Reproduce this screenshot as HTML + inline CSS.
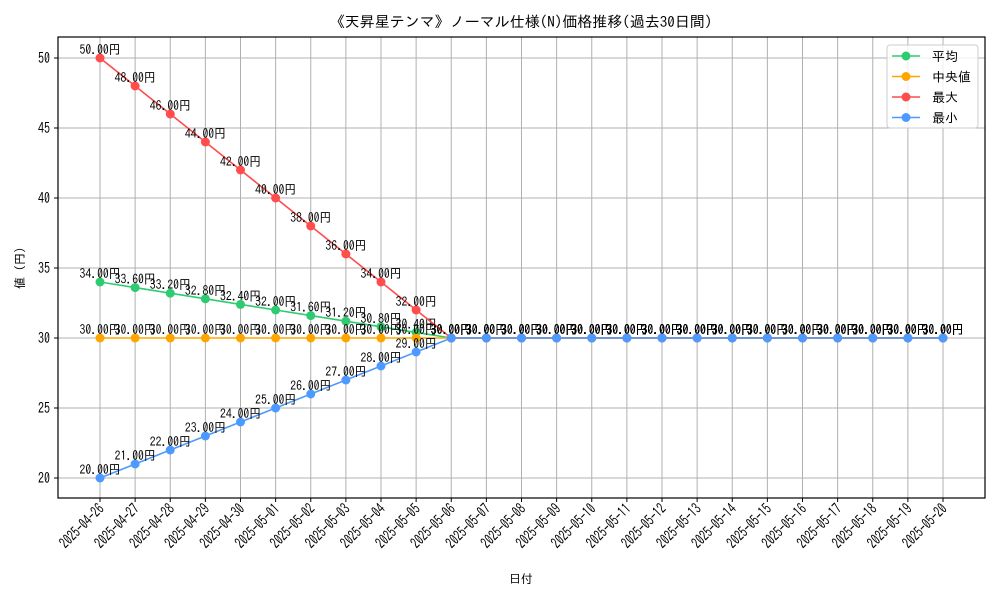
<!DOCTYPE html>
<html><head><meta charset="utf-8">
<style>
body{margin:0;background:#fff}
svg text{font-family:"IPAGothic","Noto Sans CJK JP",sans-serif;fill:#000}
</style></head>
<body>
<svg id="chart" width="1000" height="600" viewBox="0 0 1000 600" xmlns="http://www.w3.org/2000/svg">
<rect width="1000" height="600" fill="#fff"/>
<text x="521" y="27" font-size="15" text-anchor="middle">《天昇星テンマ》ノーマル仕様(N)価格推移(過去30日間)</text>
<g id="grid"></g>
<g id="axes"></g>
<g id="series"></g>
<text x="521" y="583" font-size="12" text-anchor="middle">日付</text>
<text x="0" y="0" font-size="12" text-anchor="middle" transform="translate(24,268) rotate(-90)">値 (円)</text>
<g>
<rect x="887" y="45" width="91" height="83" rx="3" fill="#fff" fill-opacity="0.8" stroke="#ccc"/>
<g id="legend-items"></g>
</g>
</svg>
<script>
const dates=["2025-04-26","2025-04-27","2025-04-28","2025-04-29","2025-04-30","2025-05-01","2025-05-02","2025-05-03","2025-05-04","2025-05-05","2025-05-06","2025-05-07","2025-05-08","2025-05-09","2025-05-10","2025-05-11","2025-05-12","2025-05-13","2025-05-14","2025-05-15","2025-05-16","2025-05-17","2025-05-18","2025-05-19","2025-05-20"];
const avgValues=[34,33.6,33.2,32.8,32.4,32,31.6,31.2,30.8,30.4,30,30,30,30,30,30,30,30,30,30,30,30,30,30,30];
const medianValues=[30,30,30,30,30,30,30,30,30,30,30,30,30,30,30,30,30,30,30,30,30,30,30,30,30];
const maxValues=[50,48,46,44,42,40,38,36,34,32,30,30,30,30,30,30,30,30,30,30,30,30,30,30,30];
const minValues=[20,21,22,23,24,25,26,27,28,29,30,30,30,30,30,30,30,30,30,30,30,30,30,30,30];
const yTicks=[20,25,30,35,40,45,50];
const seriesNames=["平均","中央値","最大","最小"];

const NS="http://www.w3.org/2000/svg";
const L=58,R=985,T=37,B=498;
const x=i=>100+i*(943-100)/(dates.length-1);
const y=v=>478-(v-20)*(478-58)/30;
function mk(tag,attrs,parent){const e=document.createElementNS(NS,tag);for(const k in attrs)e.setAttribute(k,attrs[k]);parent.appendChild(e);return e;}
const grid=document.getElementById('grid'),axes=document.getElementById('axes'),ser=document.getElementById('series');
dates.forEach((d,i)=>{
  const g=mk('line',{x1:x(i),x2:x(i),y1:T,y2:B,stroke:'#b0b0b0','stroke-width':1},grid);
  
  
  const tk=mk('line',{x1:x(i),x2:x(i),y1:B,y2:B+4,stroke:'#000'},axes);
  
  
  const t=mk('text',{'font-size':15,'text-anchor':'end',transform:`translate(${x(i)+5},${B+12}) rotate(-45) scale(0.74,1)`},axes);
  t.textContent=d;
  
  
});
yTicks.forEach(v=>{
  const g=mk('line',{x1:L,x2:R,y1:y(v),y2:y(v),stroke:'#b0b0b0','stroke-width':1},grid);
  
  
  const tk=mk('line',{x1:L-4,x2:L,y1:y(v),y2:y(v),stroke:'#000'},axes);
  
  
  const t=mk('text',{'font-size':15,'text-anchor':'end',transform:`translate(${L-8},${y(v)+5}) scale(0.8,1)`},axes);
  t.textContent=v;
  
  
});
const frame=mk('rect',{x:L,y:T,width:R-L,height:B-T,fill:'none',stroke:'#000','stroke-width':1.2},axes);



const all=[[avgValues,'#2ecc71'],[medianValues,'#ffa500'],[maxValues,'#ff4c4c'],[minValues,'#4c9aff']];
all.forEach(([vals,col],si)=>{
  const g=mk('g',{},ser);
  
  
  const p=mk('polyline',{points:vals.map((v,i)=>x(i)+','+y(v)).join(' '),fill:'none',stroke:col,'stroke-width':1.6},g);
  
  
  vals.forEach((v,i)=>{
    const c=mk('circle',{cx:x(i),cy:y(v),r:4.5,fill:col},g);
    
    
    const t=mk('text',{'font-size':13,'text-anchor':'middle',transform:`translate(${x(i)},${y(v)-4}) scale(0.9,1)`},g);
    t.textContent=v.toFixed(2)+'円';
    
    
  });
  const li=document.getElementById('legend-items');
  const ly=56+si*20.5;
  const le=mk('g',{},li);
  
  
  mk('line',{x1:892,x2:920,y1:ly,y2:ly,stroke:col,'stroke-width':1.6},le);
  mk('circle',{cx:906,cy:ly,r:4.5,fill:col},le);
  const lt=mk('text',{x:932,y:ly+5,'font-size':13},le);
  lt.textContent=seriesNames[si];
});
</script>
</body></html>
